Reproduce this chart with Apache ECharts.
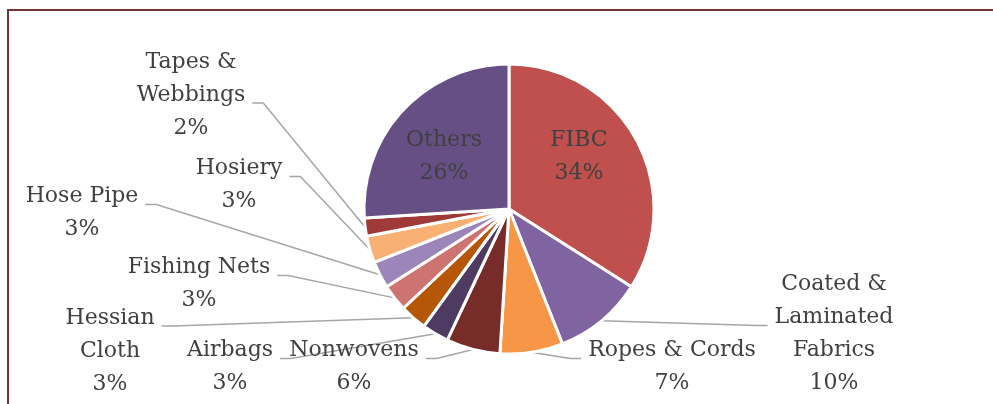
<!DOCTYPE html>
<html>
<head>
<meta charset="utf-8">
<script src="https://cdn.jsdelivr.net/npm/echarts@6/dist/echarts.min.js"></script>
<style>
html,body{margin:0;padding:0;background:#fff;}
#chart{width:993px;height:404px;}
</style>
</head>
<body>
<div id="chart"></div>
<script>
const categories = ['FIBC', 'Coated &\nLaminated\nFabrics', 'Ropes & Cords', 'Nonwovens', 'Airbags', 'Hessian\nCloth', 'Fishing Nets', 'Hose Pipe', 'Hosiery', 'Tapes &\nWebbings', 'Others'];
const shares = [34, 10, 7, 6, 3, 3, 3, 3, 3, 2, 26];
const colors = ['#C0504D', '#8064A2', '#F79646', '#772C2A', '#4D3B62', '#B65708', '#CD7371', '#9C85B9', '#F9B074', '#9F3A38', '#654F85'];
const insideLabels = ['FIBC', 'Others'];
// label layout (centre of each label block, and which text line the leader attaches to)
const labelPos = [[579,157],[834,334],[672,367],[354,367],[230,367],[110,351],[199,284],[82,213],[239,185],[191,95],[444,157]];
const anchorLine = [null, 1, 0, 0, 0, 0, 0, 0, 0, 1, null];
const pieCenter = [509, 209];
const LINE_H = 33;

const chart = echarts.init(document.getElementById('chart'));
const data = categories.map((c, i) => {
  const inside = insideLabels.indexOf(c) >= 0;
  return {
    name: c,
    value: shares[i],
    itemStyle: { color: colors[i] },
    label: inside ? { position: 'inside' } : { position: 'outside' },
    labelLine: { show: !inside }
  };
});

chart.setOption({
  animation: false,
  backgroundColor: '#ffffff',
  graphic: [{
    type: 'rect',
    shape: { x: 8, y: 10, width: 1100, height: 600 },
    style: { fill: 'none', stroke: '#773434', lineWidth: 2 },
    silent: true
  }],
  series: [{
    type: 'pie',
    center: pieCenter,
    radius: 145,
    startAngle: 90,
    clockwise: true,
    percentPrecision: 0,
    avoidLabelOverlap: false,
    itemStyle: { borderColor: '#ffffff', borderWidth: 3 },
    label: {
      formatter: '{b}\n{d}%',
      fontFamily: 'DejaVu Serif',
      fontSize: 22,
      lineHeight: LINE_H,
      color: '#404040',
      align: 'center'
    },
    labelLine: {
      show: true,
      length: 10,
      length2: 10,
      lineStyle: { color: '#A6A6A6', width: 1.5 }
    },
    labelLayout: function (params) {
      const i = params.dataIndex;
      const p = labelPos[i];
      const res = { x: p[0], y: p[1], align: 'center', verticalAlign: 'middle', hideOverlap: false };
      if (anchorLine[i] !== null && params.labelLinePoints && params.labelLinePoints.length) {
        const n = categories[i].split('\n').length + 1;
        const w = params.labelRect.width;
        const ly = p[1] + (anchorLine[i] - (n - 1) / 2) * LINE_H + 8;
        const side = p[0] < pieCenter[0] ? 1 : -1;
        const ax = p[0] + side * (w / 2 + 7);
        const ex = ax + side * 11;
        res.labelLinePoints = [params.labelLinePoints[0], [ex, ly], [ax, ly]];
      }
      return res;
    },
    emphasis: { disabled: true },
    data: data
  }]
});
</script>
</body>
</html>
